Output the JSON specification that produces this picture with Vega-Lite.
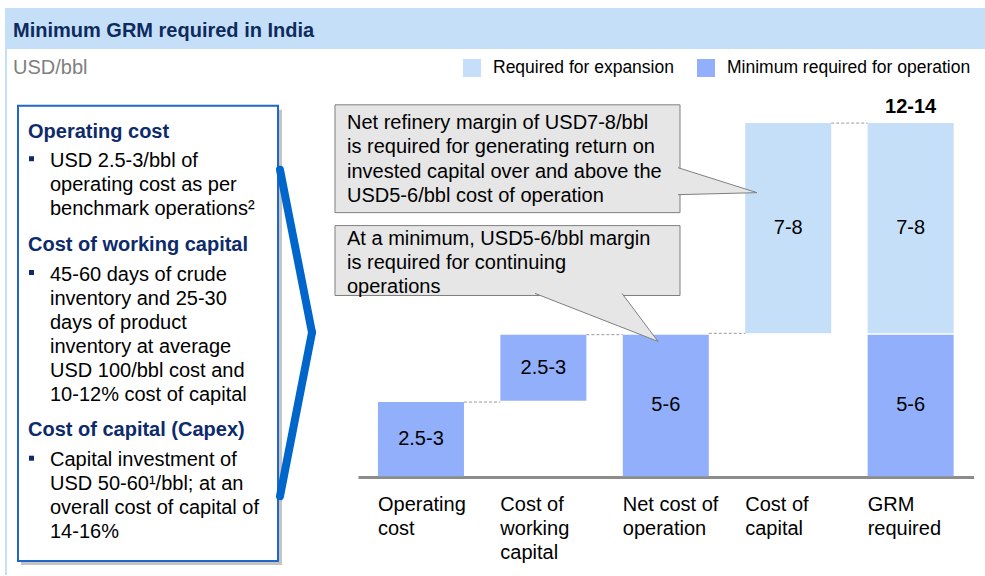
{
  "$schema": "https://vega.github.io/schema/vega-lite/v6.json",
  "width": 985,
  "height": 576,
  "autosize": {"type": "fit", "contains": "padding"},
  "padding": 0,
  "background": "white",
  "config": {"view": {"stroke": null}, "font": "Liberation Sans"},
  "datasets": {
    "bars": [
      {"category": "Operating cost", "segment": "Minimum required for operation", "start": 0, "end": 2.75, "label": "2.5-3"},
      {"category": "Cost of working capital", "segment": "Minimum required for operation", "start": 2.8, "end": 5.25, "label": "2.5-3"},
      {"category": "Net cost of operation", "segment": "Minimum required for operation", "start": 0, "end": 5.25, "label": "5-6"},
      {"category": "Cost of capital", "segment": "Required for expansion", "start": 5.3, "end": 13.1, "label": "7-8"},
      {"category": "GRM required", "segment": "Minimum required for operation", "start": 0, "end": 5.25, "label": "5-6"},
      {"category": "GRM required", "segment": "Required for expansion", "start": 5.3, "end": 13.1, "label": "7-8"}
    ],
    "connectors": [
      {"from": "Operating cost", "to": "Cost of working capital", "level": 2.75},
      {"from": "Cost of working capital", "to": "Net cost of operation", "level": 5.25},
      {"from": "Net cost of operation", "to": "Cost of capital", "level": 5.3},
      {"from": "Cost of capital", "to": "GRM required", "level": 13.1}
    ],
    "categories": [
      {"category": "Operating cost", "axis_label": "Operating\ncost"},
      {"category": "Cost of working capital", "axis_label": "Cost of\nworking\ncapital"},
      {"category": "Net cost of operation", "axis_label": "Net cost of\noperation"},
      {"category": "Cost of capital", "axis_label": "Cost of\ncapital"},
      {"category": "GRM required", "axis_label": "GRM\nrequired"}
    ],
    "totals": [
      {"category": "GRM required", "total": "12-14", "level": 13.1}
    ]
  },
  "layer": [
    {
      "layer": [
        {
          "data": {"name": "bars"},
          "mark": {"type": "bar"},
          "encoding": {
            "x": {
              "field": "category", "type": "nominal",
              "scale": {
                "domain": ["Operating cost", "Cost of working capital", "Net cost of operation", "Cost of capital", "GRM required"],
                "range": [358, 973.6], "paddingInner": 0.2974, "paddingOuter": 0.163
              },
              "axis": {"orient": "bottom", "offset": -98, "domainColor": "#8c8c8c", "domainWidth": 3, "ticks": false, "labels": false, "title": null, "grid": false}
            },
            "y": {"field": "start", "type": "quantitative", "scale": {"domain": [-3.6667, 17.6667], "nice": false, "zero": false}, "axis": null},
            "y2": {"field": "end"},
            "color": {
              "field": "segment", "type": "nominal",
              "scale": {"domain": ["Required for expansion", "Minimum required for operation"], "range": ["#C6DFF9", "#91AFFB"]},
              "legend": {
                "orient": "none", "legendX": 463, "legendY": 59, "direction": "horizontal", "title": null,
                "symbolType": "square", "symbolSize": 324, "symbolStrokeWidth": 0, "symbolOpacity": 1,
                "labelFontSize": 17.5, "labelColor": "#000000", "labelOffset": 12, "columnPadding": 23,
                "padding": 0, "offset": 0, "labelLimit": 400
              }
            }
          }
        },
        {
          "data": {"name": "bars"},
          "transform": [
            {"fold": ["start", "end"], "as": ["bound", "value"]},
            {"aggregate": [{"op": "mean", "field": "value", "as": "middle"}], "groupby": ["category", "segment", "label"]}
          ],
          "mark": {"type": "text", "fontSize": 20, "baseline": "middle", "color": "#000000"},
          "encoding": {
            "x": {"field": "category", "type": "nominal"},
            "y": {"field": "middle", "type": "quantitative"},
            "text": {"field": "label"}
          }
        },
        {
          "data": {"name": "connectors"},
          "mark": {"type": "rule", "color": "#9a9a9a", "strokeDash": [3, 2], "strokeWidth": 1},
          "encoding": {
            "x": {"field": "from", "type": "nominal", "bandPosition": 1},
            "x2": {"field": "to", "bandPosition": 0},
            "y": {"field": "level", "type": "quantitative"}
          }
        },
        {
          "data": {"name": "categories"},
          "mark": {"type": "text", "fontSize": 20, "align": "left", "baseline": "alphabetic", "lineBreak": "\n", "lineHeight": 24, "dy": 34.5, "color": "#000000"},
          "encoding": {
            "x": {"field": "category", "type": "nominal", "bandPosition": 0},
            "y": {"datum": 0, "type": "quantitative"},
            "text": {"field": "axis_label"}
          }
        },
        {
          "data": {"name": "totals"},
          "mark": {"type": "text", "fontSize": 20, "fontWeight": "bold", "baseline": "alphabetic", "dy": -10, "color": "#000000"},
          "encoding": {
            "x": {"field": "category", "type": "nominal"},
            "y": {"field": "level", "type": "quantitative"},
            "text": {"field": "total"}
          }
        }
      ]
    },
    {
      "data": {"values": [{}]},
      "layer": [
        {
          "mark": {"type": "rect", "color": "#C6DFF8"},
          "encoding": {
            "x": {"datum": 0.508, "type": "quantitative", "scale": {"domain": [0, 100], "nice": false, "zero": false}, "axis": null},
            "x2": {"datum": 100},
            "y": {"datum": 1.389, "type": "quantitative", "scale": {"domain": [0, 100], "nice": false, "zero": false, "reverse": true}, "axis": null},
            "y2": {"datum": 8.507}
          }
        },
        {
          "mark": {"type": "rule", "color": "#C6DFF8", "strokeWidth": 2},
          "encoding": {
            "x": {"datum": 0.609, "type": "quantitative", "axis": null},
            "y": {"datum": 8.507, "type": "quantitative", "axis": null},
            "y2": {"datum": 100}
          }
        },
        {
          "mark": {"type": "text", "fontSize": 20, "fontWeight": "bold", "align": "left", "baseline": "alphabetic", "color": "#0D2B5E"},
          "encoding": {
            "x": {"datum": 1.32, "type": "quantitative", "axis": null},
            "y": {"datum": 6.424, "type": "quantitative", "axis": null},
            "text": {"value": "Minimum GRM required in India"}
          }
        },
        {
          "mark": {"type": "text", "fontSize": 20, "align": "left", "baseline": "alphabetic", "color": "#7F7F7F"},
          "encoding": {
            "x": {"datum": 1.32, "type": "quantitative", "axis": null},
            "y": {"datum": 12.847, "type": "quantitative", "axis": null},
            "text": {"value": "USD/bbl"}
          }
        },
        {
          "mark": {"type": "rect", "color": "#C4C4C4"},
          "encoding": {
            "x": {"datum": 2.132, "type": "quantitative", "axis": null},
            "x2": {"datum": 28.629},
            "y": {"datum": 19.097, "type": "quantitative", "axis": null},
            "y2": {"datum": 98.264}
          }
        },
        {
          "mark": {"type": "rect", "fill": "#FFFFFF", "stroke": "#2166C9", "strokeWidth": 2},
          "encoding": {
            "x": {"datum": 1.827, "type": "quantitative", "axis": null},
            "x2": {"datum": 28.223},
            "y": {"datum": 18.403, "type": "quantitative", "axis": null},
            "y2": {"datum": 97.569}
          }
        },
        {
          "mark": {"type": "rule", "color": "#0066CC", "strokeWidth": 8, "strokeCap": "round"},
          "encoding": {
            "x": {"datum": 28.426, "type": "quantitative", "axis": null},
            "x2": {"datum": 31.675},
            "y": {"datum": 29.514, "type": "quantitative", "axis": null},
            "y2": {"datum": 57.813}
          }
        },
        {
          "mark": {"type": "rule", "color": "#0066CC", "strokeWidth": 8, "strokeCap": "round"},
          "encoding": {
            "x": {"datum": 31.675, "type": "quantitative", "axis": null},
            "x2": {"datum": 28.426},
            "y": {"datum": 57.813, "type": "quantitative", "axis": null},
            "y2": {"datum": 86.285}
          }
        },
        {
          "mark": {"type": "text", "fontSize": 20, "fontWeight": "bold", "align": "left", "baseline": "alphabetic", "color": "#0D2B6B"},
          "encoding": {
            "x": {"datum": 2.843, "type": "quantitative", "axis": null},
            "y": {"datum": 23.958, "type": "quantitative", "axis": null},
            "text": {"value": "Operating cost"}
          }
        },
        {
          "mark": {"type": "text", "fontSize": 20, "fontWeight": "bold", "align": "left", "baseline": "alphabetic", "color": "#0D2B6B"},
          "encoding": {
            "x": {"datum": 2.843, "type": "quantitative", "axis": null},
            "y": {"datum": 43.576, "type": "quantitative", "axis": null},
            "text": {"value": "Cost of working capital"}
          }
        },
        {
          "mark": {"type": "text", "fontSize": 20, "fontWeight": "bold", "align": "left", "baseline": "alphabetic", "color": "#0D2B6B"},
          "encoding": {
            "x": {"datum": 2.843, "type": "quantitative", "axis": null},
            "y": {"datum": 75.868, "type": "quantitative", "axis": null},
            "text": {"value": "Cost of capital (Capex)"}
          }
        },
        {
          "mark": {"type": "square", "size": 25, "color": "#0D2B6B", "opacity": 1},
          "encoding": {
            "x": {"datum": 3.198, "type": "quantitative", "axis": null},
            "y": {"datum": 27.604, "type": "quantitative", "axis": null}
          }
        },
        {
          "mark": {"type": "square", "size": 25, "color": "#0D2B6B", "opacity": 1},
          "encoding": {
            "x": {"datum": 3.198, "type": "quantitative", "axis": null},
            "y": {"datum": 47.396, "type": "quantitative", "axis": null}
          }
        },
        {
          "mark": {"type": "square", "size": 25, "color": "#0D2B6B", "opacity": 1},
          "encoding": {
            "x": {"datum": 3.198, "type": "quantitative", "axis": null},
            "y": {"datum": 79.688, "type": "quantitative", "axis": null}
          }
        },
        {
          "mark": {"type": "text", "fontSize": 20, "align": "left", "baseline": "alphabetic", "lineBreak": "\n", "lineHeight": 24, "color": "#000000"},
          "encoding": {
            "x": {"datum": 5.076, "type": "quantitative", "axis": null},
            "y": {"datum": 28.993, "type": "quantitative", "axis": null},
            "text": {"value": "USD 2.5-3/bbl of\noperating cost as per\nbenchmark operations²"}
          }
        },
        {
          "mark": {"type": "text", "fontSize": 20, "align": "left", "baseline": "alphabetic", "lineBreak": "\n", "lineHeight": 24, "color": "#000000"},
          "encoding": {
            "x": {"datum": 5.076, "type": "quantitative", "axis": null},
            "y": {"datum": 48.785, "type": "quantitative", "axis": null},
            "text": {"value": "45-60 days of crude\ninventory and 25-30\ndays of product\ninventory at average\nUSD 100/bbl cost and\n10-12% cost of capital"}
          }
        },
        {
          "mark": {"type": "text", "fontSize": 20, "align": "left", "baseline": "alphabetic", "lineBreak": "\n", "lineHeight": 24, "color": "#000000"},
          "encoding": {
            "x": {"datum": 5.076, "type": "quantitative", "axis": null},
            "y": {"datum": 81.076, "type": "quantitative", "axis": null},
            "text": {"value": "Capital investment of\nUSD 50-60¹/bbl; at an\noverall cost of capital of\n14-16%"}
          }
        },
        {
          "mark": {"type": "rect", "fill": "#E6E6E6", "stroke": "#7F7F7F", "strokeWidth": 1},
          "encoding": {
            "x": {"datum": 34.01, "type": "quantitative", "axis": null},
            "x2": {"datum": 69.036},
            "y": {"datum": 18.229, "type": "quantitative", "axis": null},
            "y2": {"datum": 36.979}
          }
        },
        {
          "mark": {"type": "point", "shape": "M-79,-25L0,0L-79,2", "size": 4, "filled": true, "fill": "#E6E6E6", "stroke": "#7F7F7F", "strokeWidth": 1, "opacity": 1, "fillOpacity": 1},
          "encoding": {
            "x": {"datum": 76.853, "type": "quantitative", "axis": null},
            "y": {"datum": 33.507, "type": "quantitative", "axis": null}
          }
        },
        {
          "mark": {"type": "text", "fontSize": 20, "align": "left", "baseline": "alphabetic", "lineBreak": "\n", "lineHeight": 24.5, "color": "#000000"},
          "encoding": {
            "x": {"datum": 35.228, "type": "quantitative", "axis": null},
            "y": {"datum": 22.396, "type": "quantitative", "axis": null},
            "text": {"value": "Net refinery margin of USD7-8/bbl\nis required for generating return on\ninvested capital over and above the\nUSD5-6/bbl cost of operation"}
          }
        },
        {
          "mark": {"type": "rect", "fill": "#E6E6E6", "stroke": "#7F7F7F", "strokeWidth": 1},
          "encoding": {
            "x": {"datum": 34.01, "type": "quantitative", "axis": null},
            "x2": {"datum": 69.036},
            "y": {"datum": 39.236, "type": "quantitative", "axis": null},
            "y2": {"datum": 51.389}
          }
        },
        {
          "mark": {"type": "point", "shape": "M-123,-48L0,0L-36,-48", "size": 4, "filled": true, "fill": "#E6E6E6", "stroke": "#7F7F7F", "strokeWidth": 1, "opacity": 1, "fillOpacity": 1},
          "encoding": {
            "x": {"datum": 66.802, "type": "quantitative", "axis": null},
            "y": {"datum": 59.375, "type": "quantitative", "axis": null}
          }
        },
        {
          "mark": {"type": "text", "fontSize": 20, "align": "left", "baseline": "alphabetic", "lineBreak": "\n", "lineHeight": 24, "color": "#000000"},
          "encoding": {
            "x": {"datum": 35.228, "type": "quantitative", "axis": null},
            "y": {"datum": 42.535, "type": "quantitative", "axis": null},
            "text": {"value": "At a minimum, USD5-6/bbl margin\nis required for continuing\noperations"}
          }
        }
      ]
    }
  ],
  "resolve": {"scale": {"x": "independent", "y": "independent"}}
}
